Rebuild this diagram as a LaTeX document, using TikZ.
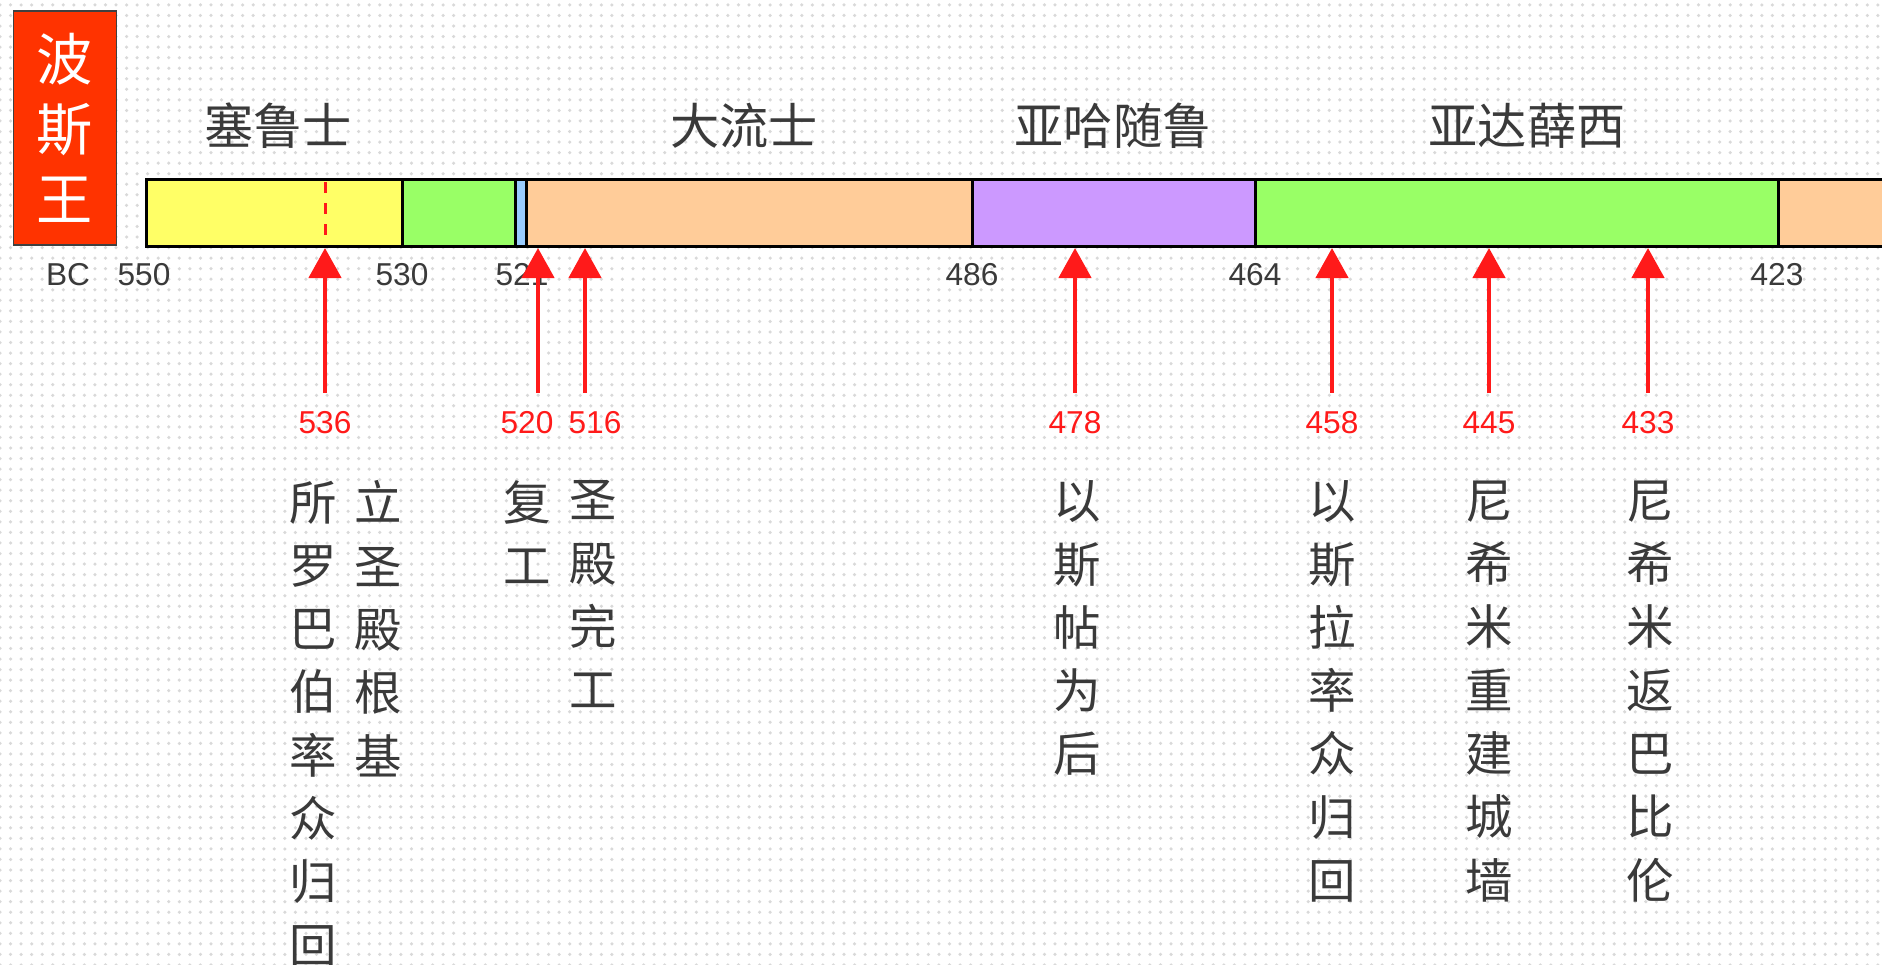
\documentclass[tikz,border=0pt]{standalone}
\usepackage{fontspec}
\setmainfont{Liberation Sans}
\newfontfamily\cjk{Noto Sans CJK SC}
\usetikzlibrary{arrows.meta,patterns}

\definecolor{txtgray}{HTML}{3A3A3A}
\definecolor{kingred}{HTML}{FF3300}
\definecolor{yel}{HTML}{FFFF66}
\definecolor{grn}{HTML}{99FF66}
\definecolor{blu}{HTML}{99CCFF}
\definecolor{org}{HTML}{FFCC99}
\definecolor{pur}{HTML}{CC99FF}
\definecolor{evred}{HTML}{FF1A1A}

\tikzset{
  seg/.style={draw=black,line width=0.03cm},
  hdr/.style={font=\cjk\fontsize{14}{17}\selectfont,text=txtgray},
  yr/.style={font=\fontsize{9}{10}\selectfont,text=txtgray},
  redyr/.style={font=\fontsize{9}{10}\selectfont,text=evred},
  upar/.style={draw=evred,line width=0.045cm,-{Triangle[width=0.32cm,length=0.3cm]}},
  vtext/.style={font=\cjk\fontsize{13.5}{18}\selectfont,text=txtgray,align=center,anchor=north,inner sep=0pt}
}

\begin{document}
\begin{tikzpicture}[x=0.01cm,y=-0.01cm]
\useasboundingbox (0,0) rectangle (1882,965);
\fill[white] (0,0) rectangle (1882,965);
\fill[pattern=dots,pattern color=gray!30] (0,0) rectangle (1882,965);

\node[draw=darkgray,fill=kingred,minimum width=1.03cm,minimum height=2.34cm,inner sep=0pt,
  font=\cjk\fontsize{16}{19.9}\selectfont,text=white,align=center] (king) at (65,128) {波\\斯\\王};

\node[hdr] (cyrus) at (278,126) {塞鲁士};
\node[hdr] (darius) at (744,126) {大流士};
\node[hdr] (xerxes) at (1113,126) {亚哈随鲁};
\node[hdr] (artax) at (1527,126) {亚达薛西};

\filldraw[seg,fill=yel] (146,180) rectangle (402,247);
\filldraw[seg,fill=grn] (402,180) rectangle (515,247);
\filldraw[seg,fill=blu] (515,180) rectangle (526,247);
\filldraw[seg,fill=org] (526,180) rectangle (972,247);
\filldraw[seg,fill=pur] (972,180) rectangle (1255,247);
\filldraw[seg,fill=grn] (1255,180) rectangle (1778,247);
\filldraw[seg,fill=org] (1778,180) rectangle (1900,247);
\draw[evred,dashed,line width=0.03cm] (325,182) -- (325,245);

\node[yr] (bc) at (68,275) {BC};
\node[yr] (y550) at (144,275) {550};
\node[yr] (y530) at (402,275) {530};
\node[yr] (y521) at (522,275) {521};
\node[yr] (y486) at (972,275) {486};
\node[yr] (y464) at (1255,275) {464};
\node[yr] (y423) at (1777,275) {423};

\coordinate (t536) at (325,248);
\coordinate (t520) at (538,248);
\coordinate (t516) at (585,248);
\coordinate (t478) at (1075,248);
\coordinate (t458) at (1332,248);
\coordinate (t445) at (1489,248);
\coordinate (t433) at (1648,248);

\coordinate (s536) at (325,393);
\coordinate (s520) at (538,393);
\coordinate (s516) at (585,393);
\coordinate (s478) at (1075,393);
\coordinate (s458) at (1332,393);
\coordinate (s445) at (1489,393);
\coordinate (s433) at (1648,393);

\draw[upar] (s536) -- (t536);
\draw[upar] (s520) -- (t520);
\draw[upar] (s516) -- (t516);
\draw[upar] (s478) -- (t478);
\draw[upar] (s458) -- (t458);
\draw[upar] (s445) -- (t445);
\draw[upar] (s433) -- (t433);

\node[redyr] (n536) at (325,423) {536};
\node[redyr] (n520) at (527,423) {520};
\node[redyr] (n516) at (595,423) {516};
\node[redyr] (n478) at (1075,423) {478};
\node[redyr] (n458) at (1332,423) {458};
\node[redyr] (n445) at (1489,423) {445};
\node[redyr] (n433) at (1648,423) {433};

\node[vtext] (zerub) at (313,480) {所\\罗\\巴\\伯\\率\\众\\归\\回};
\node[vtext] (found) at (378,480) {立\\圣\\殿\\根\\基};
\node[vtext] (resume) at (527,480) {复\\工};
\node[vtext] (finish) at (593,480) {圣\\殿\\完\\工};
\node[vtext] (esther) at (1077,480) {以\\斯\\帖\\为\\后};
\node[vtext] (ezra) at (1332,480) {以\\斯\\拉\\率\\众\\归\\回};
\node[vtext] (wall) at (1489,480) {尼\\希\\米\\重\\建\\城\\墙};
\node[vtext] (back) at (1650,480) {尼\\希\\米\\返\\巴\\比\\伦};
\end{tikzpicture}
\end{document}
